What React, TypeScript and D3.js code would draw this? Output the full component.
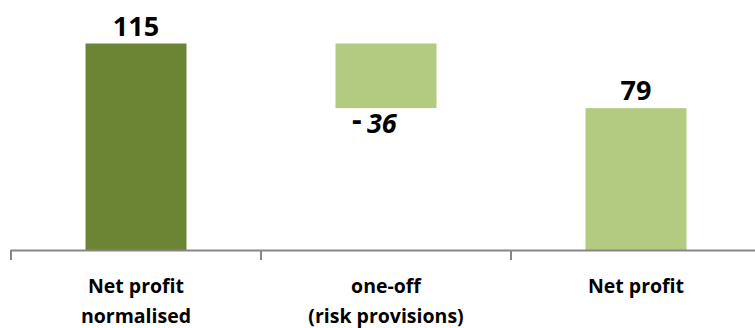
import React from "react";
import * as d3 from "d3";

// Waterfall: normalised net profit, one-off effect, reported net profit
const categories: string[][] = [
  ["Net profit", "normalised"],
  ["one-off", "(risk provisions)"],
  ["Net profit"],
];
const steps: number[] = [115, -36, 79];
const kinds: string[] = ["total", "delta", "total"];
const barColors: string[] = ["#6B8535", "#B3CB80", "#B3CB80"];

const W = 755;
const H = 328;
const baseY = 250;
const font = "'Open Sans', 'DejaVu Sans', sans-serif";

export default function App() {
  const keys = categories.map((_, i) => String(i));
  const x = d3.scaleBand<string>().domain(keys).range([11, 761]).padding(0);
  const y = d3.scaleLinear().domain([0, 115]).range([baseY, 43.5]);
  const barW = x.bandwidth() * 0.404;

  // running level for the waterfall
  let level = 0;
  const bars = steps.map((v, i) => {
    let y0: number, y1: number;
    if (kinds[i] === "total") {
      y0 = 0;
      y1 = v;
      level = v;
    } else {
      y0 = level + v;
      y1 = level;
      level = level + v;
    }
    return { key: keys[i], v, y0, y1, color: barColors[i], kind: kinds[i] };
  });

  const tickXs = [...keys.map((k) => x(k) as number), 761];

  return (
    <svg
      width={W}
      height={H}
      style={{ position: "absolute", left: 0, top: 0, background: "#fff" }}
    >
      {bars.map((b) => {
        const cx = (x(b.key) as number) + x.bandwidth() / 2;
        const top = y(b.y1);
        const bottom = y(b.y0);
        return (
          <g key={b.key}>
            <rect
              x={cx - barW / 2}
              y={top}
              width={barW}
              height={bottom - top}
              fill={b.color}
            />
            {b.kind === "total" ? (
              <text
                x={cx}
                y={top - 8}
                textAnchor="middle"
                fontFamily={font}
                fontWeight={700}
                fontSize={27}
                fill="#000"
              >
                {b.v}
              </text>
            ) : (
              <text
                x={cx - 34}
                y={bottom + 25}
                textAnchor="start"
                fontFamily={font}
                fontWeight={700}
                fontSize={27}
                fill="#000"
              >
                <tspan fontSize={30} dy={-3}>-</tspan>
                <tspan x={cx - 19} dy={3} fontStyle="italic">
                  {Math.abs(b.v)}
                </tspan>
              </text>
            )}
          </g>
        );
      })}

      {/* category axis */}
      <line x1={11} x2={761} y1={250.5} y2={250.5} stroke="#868686" strokeWidth={2} />
      {tickXs.map((tx, i) => (
        <line key={i} x1={tx} x2={tx} y1={250} y2={260} stroke="#868686" strokeWidth={2} />
      ))}

      {categories.map((lines, i) => {
        const cx = (x(keys[i]) as number) + x.bandwidth() / 2;
        return (
          <text
            key={i}
            textAnchor="middle"
            fontFamily={font}
            fontWeight={700}
            fontSize={19.5}
            fill="#000"
          >
            {lines.map((ln, j) => (
              <tspan key={j} x={cx} y={293 + j * 30}>
                {ln}
              </tspan>
            ))}
          </text>
        );
      })}
    </svg>
  );
}
